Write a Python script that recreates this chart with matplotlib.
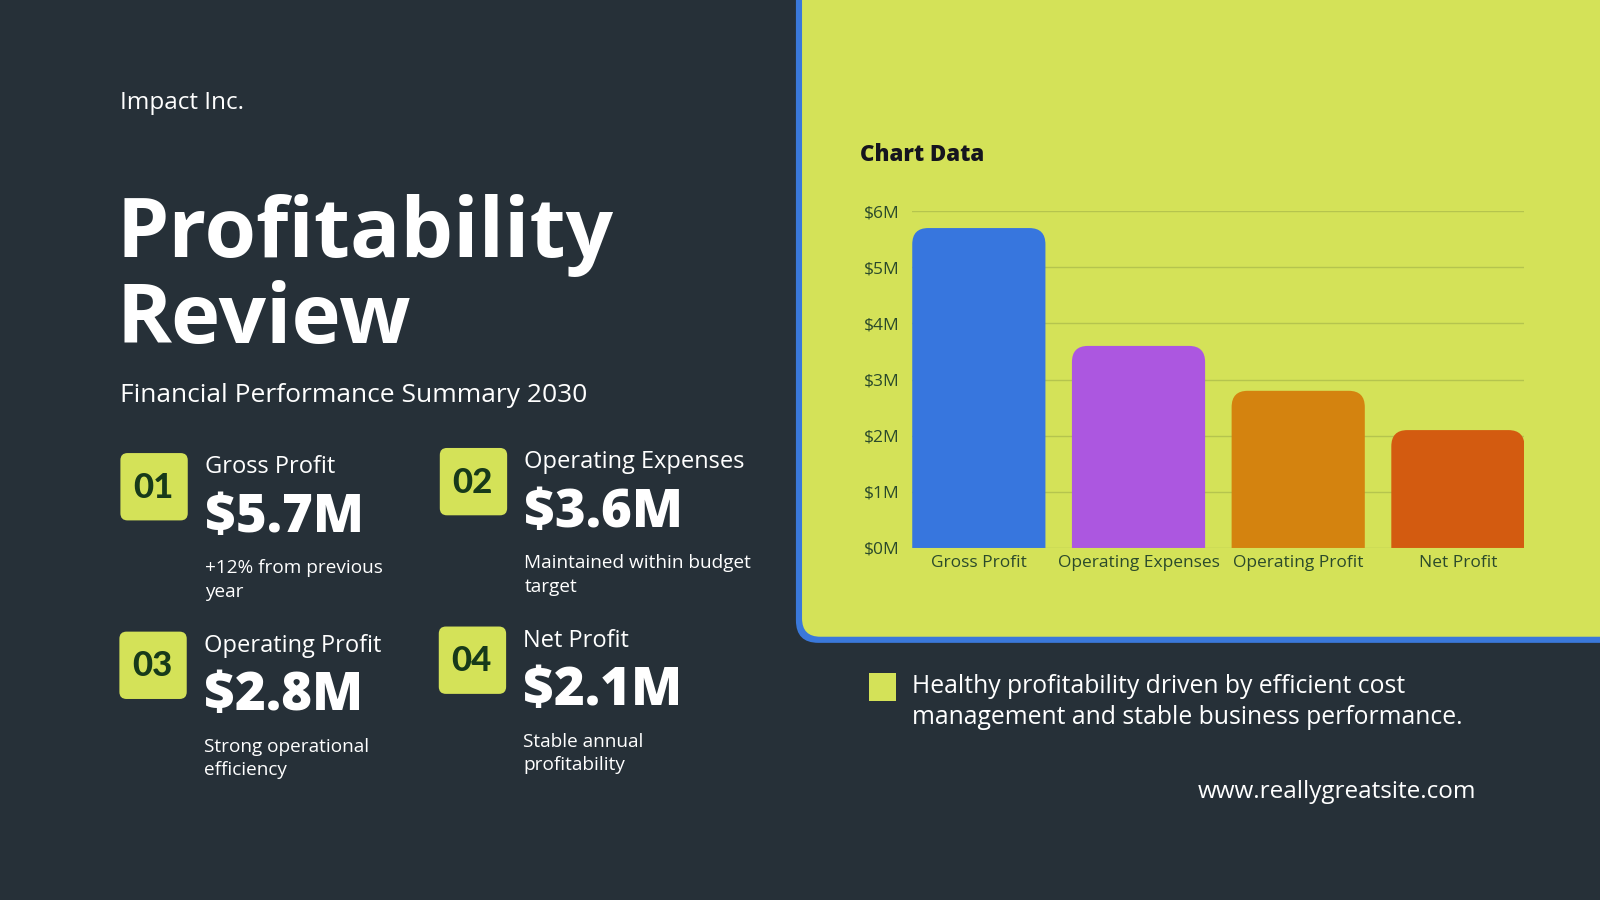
import numpy as np
import matplotlib
matplotlib.use("Agg")
import matplotlib.pyplot as plt
from matplotlib.patches import FancyBboxPatch, Rectangle, PathPatch
from matplotlib.path import Path

# --- data ---
categories = ["Gross Profit", "Operating Expenses", "Operating Profit", "Net Profit"]
values = [5.7, 3.6, 2.8, 2.1]
bar_colors = ["#3776DE", "#AC57E0", "#D4830F", "#D35B10"]
y_ticks = [0, 1, 2, 3, 4, 5, 6]
y_tick_labels = ["$0M", "$1M", "$2M", "$3M", "$4M", "$5M", "$6M"]

card_numbers = ["01", "02", "03", "04"]
card_titles = ["Gross Profit", "Operating Expenses", "Operating Profit", "Net Profit"]
card_values = ["$5.7M", "$3.6M", "$2.8M", "$2.1M"]
card_notes = [["+12% from previous", "year"],
              ["Maintained within budget", "target"],
              ["Strong operational", "efficiency"],
              ["Stable annual", "profitability"]]

BG = "#263038"
PANEL = "#D4E258"
BLUE = "#3A78DA"
BADGE_TXT = "#173A1A"
TICK = "#2B4A2B"
GRID = "#B5C44E"

FONT = "Open Sans"
HEAVY = "Lato"

fig = plt.figure(figsize=(16, 9), dpi=100, facecolor=BG)

# background canvas in reference pixel coordinates
bg = fig.add_axes([0, 0, 1, 1], zorder=0)
bg.set_xlim(0, 1568)
bg.set_ylim(882, 0)
bg.axis("off")

# chart panel with rounded bottom-left corner and blue edge
bg.add_patch(FancyBboxPatch((780, -60), 900, 690,
                            boxstyle="round,pad=0,rounding_size=22",
                            fc=BLUE, ec="none"))
bg.add_patch(FancyBboxPatch((786, -60), 900, 684,
                            boxstyle="round,pad=0,rounding_size=18",
                            fc=PANEL, ec="none"))

# left side text
bg.text(118, 101, "Impact Inc.", color="white", fontsize=17.5, family=FONT,
        va="center", ha="left")
bg.text(114, 252, "Profitability", color="white", fontsize=60, family=FONT,
        fontweight="bold", va="baseline", ha="left")
bg.text(114, 336, "Review", color="white", fontsize=60, family=FONT,
        fontweight="bold", va="baseline", ha="left")
bg.text(118, 388, "Financial Performance Summary 2030", color="white",
        fontsize=19, family=FONT, va="center", ha="left")

card_pos = [(118, 444), (431, 439), (117, 619), (430, 614)]
for (bx, by), num, title, val, notes in zip(card_pos, card_numbers, card_titles,
                                            card_values, card_notes):
    bg.add_patch(FancyBboxPatch((bx, by), 66, 66,
                                boxstyle="round,pad=0,rounding_size=7",
                                fc=PANEL, ec="none"))
    bg.text(bx + 32, by + 34, num, color=BADGE_TXT, fontsize=25, family=HEAVY,
            fontweight="black", ha="center", va="center")
    tx = bx + 83
    bg.text(tx, by + 14, title, color="white", fontsize=17, family=FONT,
            ha="left", va="center")
    bg.text(tx, by + 64, val, color="white", fontsize=38, family=FONT,
            fontweight=800, ha="left", va="center")
    bg.text(tx, by + 113, notes[0], color="white", fontsize=13.7, family=FONT,
            ha="left", va="center")
    bg.text(tx, by + 136, notes[1], color="white", fontsize=13.7, family=FONT,
            ha="left", va="center")

# chart title
bg.text(843, 152, "Chart Data", color="#15151E", fontsize=16, family=FONT,
        fontweight=800, ha="left", va="center")

# footnote
bg.add_patch(Rectangle((852, 660), 26, 27, fc=PANEL, ec="none"))
bg.text(894, 673, "Healthy profitability driven by efficient cost", color="white",
        fontsize=17.8, family=FONT, ha="left", va="center")
bg.text(894, 703, "management and stable business performance.", color="white",
        fontsize=17.8, family=FONT, ha="left", va="center")
bg.text(1447, 776, "www.reallygreatsite.com", color="white", fontsize=17.5,
        family=FONT, ha="right", va="center")

# --- bar chart ---
ax = fig.add_axes([894 / 1568, 1 - 537 / 882, 600 / 1568, 330 / 882], zorder=2)
ax.set_facecolor("none")
x = np.arange(len(categories))
bw = 0.834
bars = ax.bar(x, values, width=bw, color=bar_colors, alpha=0)
ax.set_xlim(-bw / 2, len(categories) - 1 + bw / 2)
ax.set_ylim(0, 6)

# rounded tops: corner radius in data units for each axis
rx = 0.10
ry = 0.29
codes = [Path.MOVETO, Path.LINETO, Path.CURVE3, Path.CURVE3, Path.LINETO,
         Path.CURVE3, Path.CURVE3, Path.LINETO, Path.CLOSEPOLY]
for b, c in zip(bars, bar_colors):
    x0, h = b.get_x(), b.get_height()
    x1 = x0 + bw
    verts = [(x0, 0), (x0, h - ry), (x0, h), (x0 + rx, h), (x1 - rx, h),
             (x1, h), (x1, h - ry), (x1, 0), (x0, 0)]
    ax.add_patch(PathPatch(Path(verts, codes), fc=c, ec="none", zorder=3))

ax.set_yticks(y_ticks)
ax.set_yticklabels(y_tick_labels)
ax.set_xticks(x)
ax.set_xticklabels(categories)
ax.grid(axis="y", color=GRID, linewidth=1)
ax.set_axisbelow(True)
for s in ax.spines.values():
    s.set_visible(False)
ax.tick_params(length=0, colors=TICK, labelsize=12.5)
ax.tick_params(axis="y", pad=9)
ax.tick_params(axis="x", pad=5)
for lab in ax.get_xticklabels() + ax.get_yticklabels():
    lab.set_family(FONT)

fig.savefig("out.png", dpi=100, facecolor=BG)
